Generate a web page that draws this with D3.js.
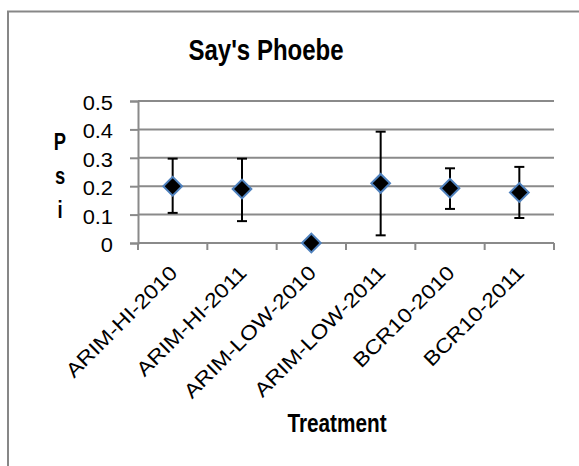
<!DOCTYPE html>
<html>
<head>
<meta charset="utf-8">
<script src="https://cdn.jsdelivr.net/npm/d3@7"></script>
<style>
  html, body { margin: 0; padding: 0; background: #fff; }
  svg { display: block; }
  text { font-family: "Liberation Sans", Arial, sans-serif; fill: #000; }
  .bold { font-weight: bold; }
</style>
</head>
<body>
<svg id="chart" width="579" height="466"></svg>
<script>
// Occupancy (Psi) estimates with error ranges, per treatment and year
const categories = ["ARIM-HI-2010", "ARIM-HI-2011", "ARIM-LOW-2010", "ARIM-LOW-2011", "BCR10-2010", "BCR10-2011"];
const psi   = [0.20, 0.19, 0.00, 0.21, 0.193, 0.178];
const upper = [0.297, 0.297, 0.00, 0.392, 0.263, 0.268];
const lower = [0.106, 0.077, 0.00, 0.027, 0.120, 0.088];
const yTicks = [0, 0.1, 0.2, 0.3, 0.4, 0.5];

const svg = d3.select("#chart");
const W = 579, H = 466;
const plot = { left: 138, right: 554, top: 101, bottom: 243 };
const gridColor = "#8a8a8a";
const narrow = 0.8;   // condensed look for bold headings
const wide = 1.12;    // slightly stretched regular labels

// outer chart frame (runs past the right and bottom edges)
svg.append("rect")
  .attr("x", 8).attr("y", 11.5)
  .attr("width", W + 20).attr("height", H + 20)
  .attr("fill", "none").attr("stroke", "#878787").attr("stroke-width", 2);

const x = d3.scaleBand().domain(categories).range([plot.left, plot.right]);
const y = d3.scaleLinear().domain([0, 0.5]).range([plot.bottom, plot.top]);
const cx = c => x(c) + x.bandwidth() / 2;

// title
svg.append("text").attr("class", "bold")
  .attr("transform", `translate(266,60) scale(${narrow},1)`)
  .attr("text-anchor", "middle")
  .style("font-size", "30px")
  .text("Say's Phoebe");

// horizontal gridlines
svg.append("g").selectAll("line").data(yTicks.slice(1)).join("line")
  .attr("x1", plot.left).attr("x2", plot.right)
  .attr("y1", d => y(d)).attr("y2", d => y(d))
  .attr("stroke", gridColor).attr("stroke-width", 2);

// y axis line and tick marks
const yAxis = d3.axisLeft(y).tickValues(yTicks).tickSize(8).tickFormat("");
const gy = svg.append("g").attr("transform", `translate(${plot.left},0)`).call(yAxis);
gy.select(".domain").attr("stroke", gridColor).attr("stroke-width", 2);
gy.selectAll(".tick line").attr("stroke", gridColor).attr("stroke-width", 2);

// y tick labels
svg.append("g").selectAll("text").data(yTicks).join("text")
  .attr("transform", d => `translate(113,${y(d) + 2}) scale(${wide},1)`)
  .attr("text-anchor", "end")
  .attr("dy", "0.36em")
  .style("font-size", "19.5px")
  .text(d => d === 0 ? "0" : d3.format(".1f")(d));

// x axis: category boundaries as tick marks
const bounds = d3.range(categories.length + 1).map(i => plot.left + i * x.bandwidth());
const gx = svg.append("g");
gx.append("line")
  .attr("x1", plot.left).attr("x2", plot.right)
  .attr("y1", plot.bottom).attr("y2", plot.bottom)
  .attr("stroke", gridColor).attr("stroke-width", 2);
gx.selectAll("line.tk").data(bounds).join("line").attr("class", "tk")
  .attr("x1", d => d).attr("x2", d => d)
  .attr("y1", plot.bottom).attr("y2", plot.bottom + 7)
  .attr("stroke", gridColor).attr("stroke-width", 2);

// rotated category labels
gx.selectAll("text").data(categories).join("text")
  .attr("transform", d => `translate(${cx(d) + 6},${plot.bottom + 31}) rotate(-45) scale(1.16,1)`)
  .attr("text-anchor", "end")
  .style("font-size", "20px")
  .text(d => d);

// y axis title, stacked letters
svg.append("g").selectAll("text").data(["P", "s", "i"]).join("text")
  .attr("class", "bold")
  .attr("transform", (d, i) => `translate(60,${150 + i * 34}) scale(${narrow},1)`)
  .attr("text-anchor", "middle")
  .style("font-size", "23px")
  .text(d => d);

// x axis title
svg.append("text").attr("class", "bold")
  .attr("transform", `translate(337,432) scale(0.83,1)`)
  .attr("text-anchor", "middle")
  .style("font-size", "25px")
  .text("Treatment");

// error bars
const cap = 5;
const rows = categories.map((c, i) => ({ c, v: psi[i], hi: upper[i], lo: lower[i] }));
const eb = svg.append("g").selectAll("g").data(rows.filter(r => r.hi > r.lo)).join("g")
  .attr("stroke", "#000").attr("stroke-width", 2);
eb.append("line")
  .attr("x1", r => cx(r.c)).attr("x2", r => cx(r.c))
  .attr("y1", r => y(r.hi)).attr("y2", r => y(r.lo));
eb.append("line")
  .attr("x1", r => cx(r.c) - cap).attr("x2", r => cx(r.c) + cap)
  .attr("y1", r => y(r.hi)).attr("y2", r => y(r.hi));
eb.append("line")
  .attr("x1", r => cx(r.c) - cap).attr("x2", r => cx(r.c) + cap)
  .attr("y1", r => y(r.lo)).attr("y2", r => y(r.lo));

// diamond markers
const diamond = d3.symbol().type(d3.symbolSquare).size(175);
svg.append("g").selectAll("path").data(rows).join("path")
  .attr("d", diamond)
  .attr("transform", r => `translate(${cx(r.c)},${y(r.v)}) rotate(45)`)
  .attr("fill", "#000").attr("stroke", "#4f81bd").attr("stroke-width", 2);
</script>
</body>
</html>
